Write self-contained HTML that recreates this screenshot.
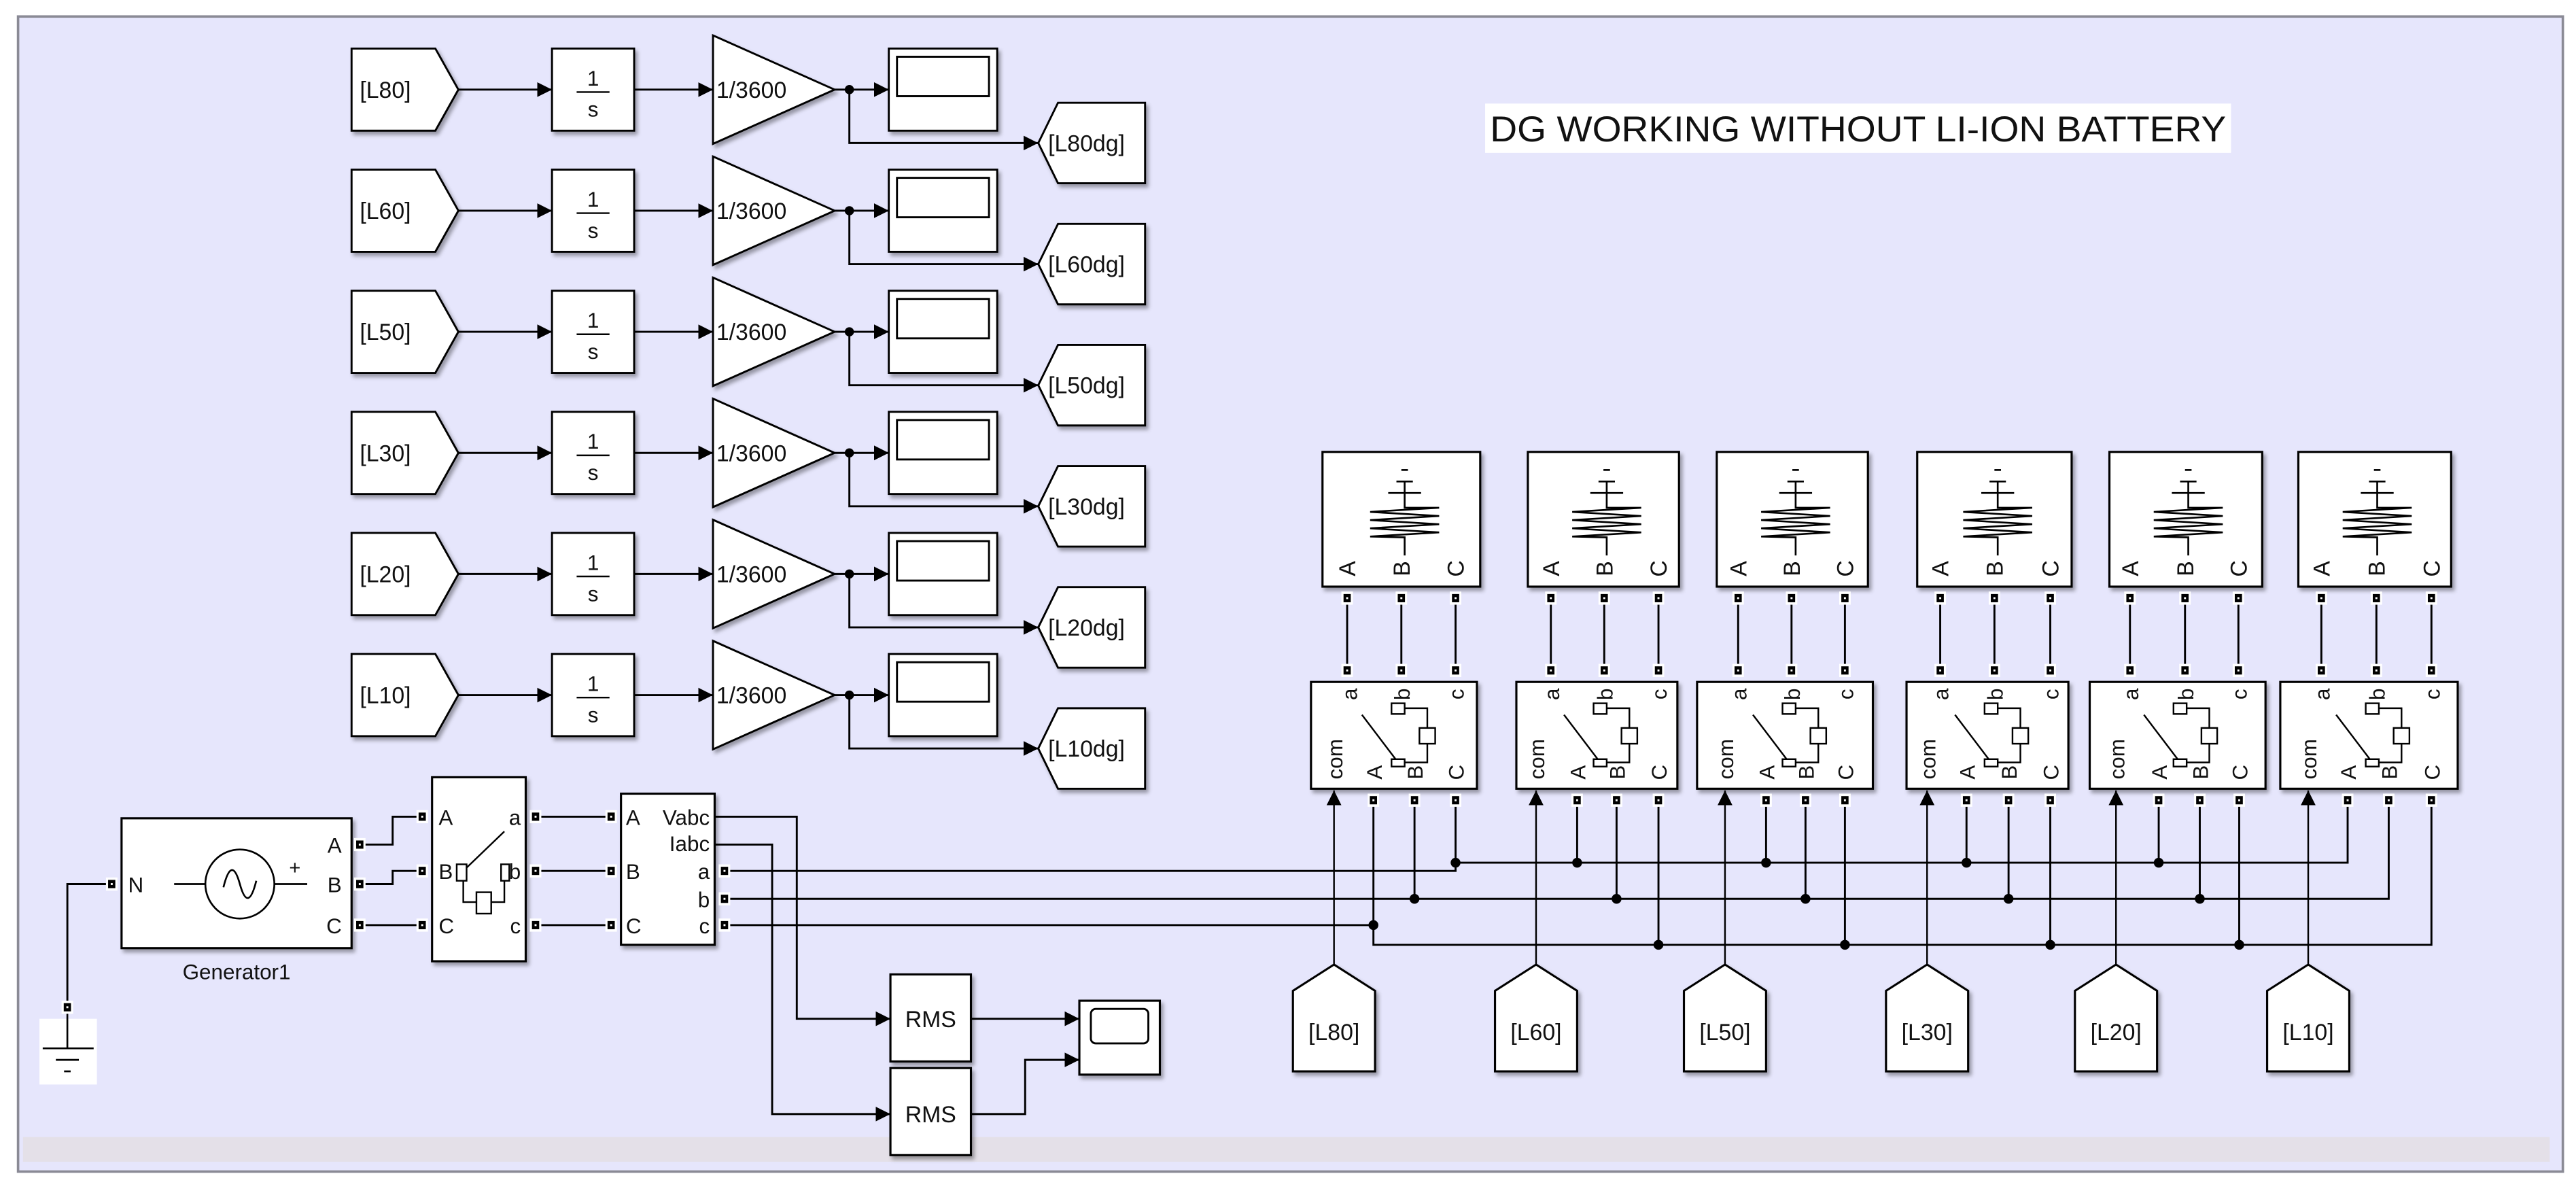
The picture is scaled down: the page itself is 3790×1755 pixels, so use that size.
<!DOCTYPE html>
<html><head><meta charset="utf-8"><style>
html,body{margin:0;padding:0;background:#fff;}
svg{display:block;}
text{font-family:"Liberation Sans",Arial,sans-serif;fill:#111;}
</style></head><body>
<svg width="3790" height="1755" viewBox="0 0 1568 726" xmlns="http://www.w3.org/2000/svg">
<defs>
<marker id="ar" markerWidth="10" markerHeight="10" refX="9" refY="5" orient="auto" markerUnits="userSpaceOnUse"><path d="M0,0.5 L9,5 L0,9.5 Z" fill="#000"/></marker>
<filter id="sh" x="-10%" y="-10%" width="130%" height="130%"><feDropShadow dx="1.5" dy="2" stdDeviation="1.2" flood-color="#000" flood-opacity="0.35"/></filter>
<g id="port"><rect x="-3.5" y="-4" width="7" height="8" fill="#fff"/><rect x="-2.2" y="-2.5" width="4.4" height="5" fill="#000"/><rect x="-0.6" y="-0.6" width="1.2" height="1.2" fill="#fff"/></g>
<g id="loadicon" fill="none" stroke="#000" stroke-width="1.1">
<polyline points="0,338 0,327 -21,326.5 21,324 -21,321.5 21,319 -21,316.5 21,314 -21,311.5 21,309 0,309 0,300"/>
<line x1="-10" y1="300" x2="10" y2="300"/><line x1="-5" y1="293" x2="5" y2="293"/><line x1="0" y1="293" x2="0" y2="300"/><line x1="-2" y1="286" x2="2" y2="286"/>
</g>
<g id="bricon" fill="#fff" stroke="#000" stroke-width="1">
<line x1="17" y1="435" x2="37.5" y2="462"/>
<polyline fill="none" points="43,431 56.8,431 56.8,443"/><polyline fill="none" points="56.8,452.6 56.8,464 43,464"/>
<rect x="35" y="428" width="8" height="6.5"/><rect x="35" y="462" width="8" height="4.5"/><rect x="52" y="443" width="9.6" height="9.6"/>
</g>
<g id="r0" stroke="#000" stroke-width="1.2">
<path d="M214,29.5 H265 L279,54.5 L265,79.5 H214 Z" fill="#fff" filter="url(#sh)"/>
<rect x="336" y="29.5" width="50" height="50" fill="#fff" filter="url(#sh)"/>
<line x1="351" y1="56" x2="371" y2="56" stroke-width="1"/>
<path d="M434,21.5 L508,54.5 L434,87.5 Z" fill="#fff" filter="url(#sh)"/>
<rect x="541" y="29.5" width="66" height="50" fill="#fff" filter="url(#sh)"/>
<rect x="546" y="34.5" width="56" height="24" fill="#fff"/>
<line x1="279" y1="54.5" x2="336" y2="54.5" marker-end="url(#ar)"/>
<line x1="386" y1="54.5" x2="434" y2="54.5" marker-end="url(#ar)"/>
<line x1="508" y1="54.5" x2="541" y2="54.5" marker-end="url(#ar)"/>
<polyline fill="none" points="517,54.5 517,87 632,87" marker-end="url(#ar)"/>
<circle cx="517" cy="54.5" r="2.8" fill="#000" stroke="none"/>
<path d="M632,87 L644,62.5 H697 V111.5 H644 Z" fill="#fff" filter="url(#sh)"/>
</g>
</defs>

<!-- canvas -->
<rect x="11" y="10" width="1549" height="703" fill="#e6e6fc" stroke="#8a8a95" stroke-width="1.5"/>
<rect x="14" y="692" width="1538" height="15" fill="#e4e0e8"/>

<!-- title -->
<rect x="904" y="63" width="454" height="30" fill="#fff"/>
<text x="907" y="86" font-size="22" textLength="448" lengthAdjust="spacingAndGlyphs">DG WORKING WITHOUT LI-ION BATTERY</text>

<!-- rows -->
<use href="#r0"/><use href="#r0" y="73.7"/><use href="#r0" y="147.4"/><use href="#r0" y="221.1"/><use href="#r0" y="294.8"/><use href="#r0" y="368.5"/>

<g font-size="14">
<text x="219" y="59.5">[L80]</text><text x="219" y="133.2">[L60]</text><text x="219" y="206.9">[L50]</text><text x="219" y="280.6">[L30]</text><text x="219" y="354.3">[L20]</text><text x="219" y="428">[L10]</text>
<text x="436" y="59.5">1/3600</text><text x="436" y="133.2">1/3600</text><text x="436" y="206.9">1/3600</text><text x="436" y="280.6">1/3600</text><text x="436" y="354.3">1/3600</text><text x="436" y="428">1/3600</text>
<text x="638" y="92">[L80dg]</text><text x="638" y="165.7">[L60dg]</text><text x="638" y="239.4">[L50dg]</text><text x="638" y="313.1">[L30dg]</text><text x="638" y="386.8">[L20dg]</text><text x="638" y="460.5">[L10dg]</text>
</g>
<g font-size="13" text-anchor="middle">
<text x="361" y="52">1</text><text x="361" y="71">s</text>
<text x="361" y="125.7">1</text><text x="361" y="144.7">s</text>
<text x="361" y="199.4">1</text><text x="361" y="218.4">s</text>
<text x="361" y="273.1">1</text><text x="361" y="292.1">s</text>
<text x="361" y="346.8">1</text><text x="361" y="365.8">s</text>
<text x="361" y="420.5">1</text><text x="361" y="439.5">s</text>
</g>

<!-- generator section -->
<g stroke="#000" stroke-width="1.2" fill="none">
<polyline points="68,538 41,538 41,613"/>
<polyline points="220,514 239,514 239,497 256,497"/>
<polyline points="220,538 239,538 239,530 256,530"/>
<line x1="220" y1="563" x2="256" y2="563"/>
<line x1="327" y1="497" x2="371" y2="497"/><line x1="327" y1="530" x2="371" y2="530"/><line x1="327" y1="563" x2="371" y2="563"/>
<polyline points="435,497 485,497 485,620 542,620" marker-end="url(#ar)"/>
<polyline points="435,514 470,514 470,678 542,678" marker-end="url(#ar)"/>
<line x1="591" y1="620" x2="657" y2="620" marker-end="url(#ar)"/>
<polyline points="591,678 624,678 624,645 657,645" marker-end="url(#ar)"/>
<polyline points="441,530 886,530 886,525 1429,525 1429,487"/>
<polyline points="441,547 1454,547 1454,487"/>
<polyline points="441,563 836,563 836,575 1480,575 1480,487"/>
</g>
<rect x="74" y="498" width="140" height="79" fill="#fff" stroke="#000" stroke-width="1.3" filter="url(#sh)"/>
<g stroke="#000" stroke-width="1.1" fill="none"><circle cx="146" cy="538" r="21"/><line x1="106" y1="538" x2="125" y2="538"/><line x1="167" y1="538" x2="187" y2="538"/><path d="M136,540 Q141,520 146,538 T156,536"/></g>
<text x="176" y="532" font-size="12">+</text>
<g font-size="13"><text x="78" y="543">N</text><text x="208" y="519" text-anchor="end">A</text><text x="208" y="543" text-anchor="end">B</text><text x="208" y="568" text-anchor="end">C</text></g>
<text x="144" y="596" font-size="13" text-anchor="middle">Generator1</text>
<rect x="24" y="620" width="35" height="40" fill="#fff"/>
<g stroke="#000" stroke-width="1.1"><line x1="41" y1="613" x2="41" y2="638"/><line x1="26" y1="638" x2="57" y2="638"/><line x1="34" y1="645" x2="48" y2="645"/><line x1="39" y1="652" x2="43" y2="652"/></g>

<rect x="263" y="473" width="57" height="112" fill="#fff" stroke="#000" stroke-width="1.3" filter="url(#sh)"/>
<g font-size="13"><text x="267" y="502">A</text><text x="267" y="535">B</text><text x="267" y="568">C</text><text x="317" y="502" text-anchor="end">a</text><text x="317" y="535" text-anchor="end">b</text><text x="317" y="568" text-anchor="end">c</text></g>
<g stroke="#000" stroke-width="1" fill="#fff"><line x1="307" y1="506" x2="282" y2="530"/><polyline fill="none" points="282,535 282,549 290,549"/><polyline fill="none" points="299,549 307,549 307,535"/><rect x="278" y="526" width="6" height="10"/><rect x="305" y="526" width="5" height="10"/><rect x="290" y="543" width="9" height="13"/></g>

<rect x="378" y="483" width="57" height="92" fill="#fff" stroke="#000" stroke-width="1.3" filter="url(#sh)"/>
<g font-size="13"><text x="381" y="502">A</text><text x="381" y="535">B</text><text x="381" y="568">C</text>
<text x="432" y="502" text-anchor="end">Vabc</text><text x="432" y="518" text-anchor="end">Iabc</text><text x="432" y="535" text-anchor="end">a</text><text x="432" y="552" text-anchor="end">b</text><text x="432" y="568" text-anchor="end">c</text></g>

<g><use href="#port" x="68" y="538"/><use href="#port" x="41" y="613"/><use href="#port" x="219" y="514"/><use href="#port" x="219" y="538"/><use href="#port" x="219" y="563"/>
<use href="#port" x="257" y="497"/><use href="#port" x="257" y="530"/><use href="#port" x="257" y="563"/><use href="#port" x="326" y="497"/><use href="#port" x="326" y="530"/><use href="#port" x="326" y="563"/>
<use href="#port" x="372" y="497"/><use href="#port" x="372" y="530"/><use href="#port" x="372" y="563"/><use href="#port" x="441" y="530"/><use href="#port" x="441" y="547"/><use href="#port" x="441" y="563"/></g>

<rect x="542" y="593" width="49" height="53" fill="#fff" stroke="#000" stroke-width="1.3" filter="url(#sh)"/>
<rect x="542" y="650" width="49" height="53" fill="#fff" stroke="#000" stroke-width="1.3" filter="url(#sh)"/>
<text x="566.5" y="625" font-size="14" text-anchor="middle">RMS</text><text x="566.5" y="683" font-size="14" text-anchor="middle">RMS</text>
<rect x="657" y="609" width="49" height="45" fill="#fff" stroke="#000" stroke-width="1.3" filter="url(#sh)"/>
<rect x="664" y="614" width="35" height="21" rx="3" fill="#fff" stroke="#000" stroke-width="1.2"/>

<!-- load / breaker blocks -->
<g stroke="#000" stroke-width="1.3" fill="#fff" filter="url(#sh)">
<rect x="805" y="275" width="96" height="82"/><rect x="930" y="275" width="92" height="82"/><rect x="1045" y="275" width="92" height="82"/><rect x="1167" y="275" width="94" height="82"/><rect x="1284" y="275" width="93" height="82"/><rect x="1399" y="275" width="93" height="82"/>
<rect x="798" y="415" width="101" height="65"/><rect x="923" y="415" width="98" height="65"/><rect x="1033" y="415" width="107" height="65"/><rect x="1160.5" y="415" width="98.5" height="65"/><rect x="1272" y="415" width="107" height="65"/><rect x="1388" y="415" width="108" height="65"/>
</g>
<use href="#loadicon" x="855"/><use href="#loadicon" x="978"/><use href="#loadicon" x="1093"/><use href="#loadicon" x="1216"/><use href="#loadicon" x="1332"/><use href="#loadicon" x="1447"/>
<use href="#bricon" x="812"/><use href="#bricon" x="935"/><use href="#bricon" x="1050"/><use href="#bricon" x="1173"/><use href="#bricon" x="1288"/><use href="#bricon" x="1405"/>

<g stroke="#000" stroke-width="1.2">
<line x1="820" y1="364" x2="820" y2="408"/><line x1="853" y1="364" x2="853" y2="408"/><line x1="886" y1="364" x2="886" y2="408"/>
<line x1="944" y1="364" x2="944" y2="408"/><line x1="976.5" y1="364" x2="976.5" y2="408"/><line x1="1009.5" y1="364" x2="1009.5" y2="408"/>
<line x1="1058" y1="364" x2="1058" y2="408"/><line x1="1090.5" y1="364" x2="1090.5" y2="408"/><line x1="1123" y1="364" x2="1123" y2="408"/>
<line x1="1181" y1="364" x2="1181" y2="408"/><line x1="1214" y1="364" x2="1214" y2="408"/><line x1="1248" y1="364" x2="1248" y2="408"/>
<line x1="1296.5" y1="364" x2="1296.5" y2="408"/><line x1="1330" y1="364" x2="1330" y2="408"/><line x1="1362.5" y1="364" x2="1362.5" y2="408"/>
<line x1="1413" y1="364" x2="1413" y2="408"/><line x1="1446.5" y1="364" x2="1446.5" y2="408"/><line x1="1480" y1="364" x2="1480" y2="408"/>
<line x1="836" y1="487" x2="836" y2="563"/><line x1="861" y1="487" x2="861" y2="547"/><line x1="886" y1="487" x2="886" y2="525"/>
<line x1="960" y1="487" x2="960" y2="525"/><line x1="984" y1="487" x2="984" y2="547"/><line x1="1009.5" y1="487" x2="1009.5" y2="575"/>
<line x1="1075" y1="487" x2="1075" y2="525"/><line x1="1099" y1="487" x2="1099" y2="547"/><line x1="1123" y1="487" x2="1123" y2="575"/>
<line x1="1197" y1="487" x2="1197" y2="525"/><line x1="1222.6" y1="487" x2="1222.6" y2="547"/><line x1="1248" y1="487" x2="1248" y2="575"/>
<line x1="1314" y1="487" x2="1314" y2="525"/><line x1="1339" y1="487" x2="1339" y2="547"/><line x1="1363" y1="487" x2="1363" y2="575"/>
</g>
<g stroke="#000" stroke-width="1">
<line x1="812" y1="587" x2="812" y2="481" marker-end="url(#ar)"/><line x1="935" y1="587" x2="935" y2="481" marker-end="url(#ar)"/><line x1="1050" y1="587" x2="1050" y2="481" marker-end="url(#ar)"/>
<line x1="1173" y1="587" x2="1173" y2="481" marker-end="url(#ar)"/><line x1="1288" y1="587" x2="1288" y2="481" marker-end="url(#ar)"/><line x1="1405" y1="587" x2="1405" y2="481" marker-end="url(#ar)"/>
</g>
<g fill="#000">
<circle cx="886" cy="525" r="3"/><circle cx="960" cy="525" r="3"/><circle cx="1075" cy="525" r="3"/><circle cx="1197" cy="525" r="3"/><circle cx="1314" cy="525" r="3"/>
<circle cx="861" cy="547" r="3"/><circle cx="984" cy="547" r="3"/><circle cx="1099" cy="547" r="3"/><circle cx="1222.6" cy="547" r="3"/><circle cx="1339" cy="547" r="3"/>
<circle cx="836" cy="563" r="3"/><circle cx="1009.5" cy="575" r="3"/><circle cx="1123" cy="575" r="3"/><circle cx="1248" cy="575" r="3"/><circle cx="1363" cy="575" r="3"/>
</g>
<g>
<use href="#port" x="820" y="364"/><use href="#port" x="853" y="364"/><use href="#port" x="886" y="364"/><use href="#port" x="820" y="408"/><use href="#port" x="853" y="408"/><use href="#port" x="886" y="408"/>
<use href="#port" x="836" y="487"/><use href="#port" x="861" y="487"/><use href="#port" x="886" y="487"/>
<use href="#port" x="944" y="364"/><use href="#port" x="976.5" y="364"/><use href="#port" x="1009.5" y="364"/><use href="#port" x="944" y="408"/><use href="#port" x="976.5" y="408"/><use href="#port" x="1009.5" y="408"/>
<use href="#port" x="960" y="487"/><use href="#port" x="984" y="487"/><use href="#port" x="1009.5" y="487"/>
<use href="#port" x="1058" y="364"/><use href="#port" x="1090.5" y="364"/><use href="#port" x="1123" y="364"/><use href="#port" x="1058" y="408"/><use href="#port" x="1090.5" y="408"/><use href="#port" x="1123" y="408"/>
<use href="#port" x="1075" y="487"/><use href="#port" x="1099" y="487"/><use href="#port" x="1123" y="487"/>
<use href="#port" x="1181" y="364"/><use href="#port" x="1214" y="364"/><use href="#port" x="1248" y="364"/><use href="#port" x="1181" y="408"/><use href="#port" x="1214" y="408"/><use href="#port" x="1248" y="408"/>
<use href="#port" x="1197" y="487"/><use href="#port" x="1222.6" y="487"/><use href="#port" x="1248" y="487"/>
<use href="#port" x="1296.5" y="364"/><use href="#port" x="1330" y="364"/><use href="#port" x="1362.5" y="364"/><use href="#port" x="1296.5" y="408"/><use href="#port" x="1330" y="408"/><use href="#port" x="1362.5" y="408"/>
<use href="#port" x="1314" y="487"/><use href="#port" x="1339" y="487"/><use href="#port" x="1363" y="487"/>
<use href="#port" x="1413" y="364"/><use href="#port" x="1446.5" y="364"/><use href="#port" x="1480" y="364"/><use href="#port" x="1413" y="408"/><use href="#port" x="1446.5" y="408"/><use href="#port" x="1480" y="408"/>
<use href="#port" x="1429" y="487"/><use href="#port" x="1454" y="487"/><use href="#port" x="1480" y="487"/>
</g>

<g font-size="14" text-anchor="middle">
<text transform="translate(825,346) rotate(-90)">A</text><text transform="translate(858,346) rotate(-90)">B</text><text transform="translate(891,346) rotate(-90)">C</text>
<text transform="translate(949,346) rotate(-90)">A</text><text transform="translate(981.5,346) rotate(-90)">B</text><text transform="translate(1014.5,346) rotate(-90)">C</text>
<text transform="translate(1063,346) rotate(-90)">A</text><text transform="translate(1095.5,346) rotate(-90)">B</text><text transform="translate(1128,346) rotate(-90)">C</text>
<text transform="translate(1186,346) rotate(-90)">A</text><text transform="translate(1219,346) rotate(-90)">B</text><text transform="translate(1253,346) rotate(-90)">C</text>
<text transform="translate(1301.5,346) rotate(-90)">A</text><text transform="translate(1335,346) rotate(-90)">B</text><text transform="translate(1367.5,346) rotate(-90)">C</text>
<text transform="translate(1418,346) rotate(-90)">A</text><text transform="translate(1451.5,346) rotate(-90)">B</text><text transform="translate(1485,346) rotate(-90)">C</text>
</g>
<g font-size="13" text-anchor="middle">
<text transform="translate(817,462) rotate(-90)">com</text><text transform="translate(841,470) rotate(-90)">A</text><text transform="translate(866,470) rotate(-90)">B</text><text transform="translate(891,470) rotate(-90)">C</text>
<text transform="translate(826,422.5) rotate(-90)">a</text><text transform="translate(858,422.5) rotate(-90)">b</text><text transform="translate(891,422.5) rotate(-90)">c</text>
<text transform="translate(940,462) rotate(-90)">com</text><text transform="translate(965,470) rotate(-90)">A</text><text transform="translate(989,470) rotate(-90)">B</text><text transform="translate(1014.5,470) rotate(-90)">C</text>
<text transform="translate(949,422.5) rotate(-90)">a</text><text transform="translate(981.5,422.5) rotate(-90)">b</text><text transform="translate(1014.5,422.5) rotate(-90)">c</text>
<text transform="translate(1055,462) rotate(-90)">com</text><text transform="translate(1080,470) rotate(-90)">A</text><text transform="translate(1104,470) rotate(-90)">B</text><text transform="translate(1128,470) rotate(-90)">C</text>
<text transform="translate(1063,422.5) rotate(-90)">a</text><text transform="translate(1095.5,422.5) rotate(-90)">b</text><text transform="translate(1128,422.5) rotate(-90)">c</text>
<text transform="translate(1178,462) rotate(-90)">com</text><text transform="translate(1202,470) rotate(-90)">A</text><text transform="translate(1227.6,470) rotate(-90)">B</text><text transform="translate(1253,470) rotate(-90)">C</text>
<text transform="translate(1186,422.5) rotate(-90)">a</text><text transform="translate(1219,422.5) rotate(-90)">b</text><text transform="translate(1253,422.5) rotate(-90)">c</text>
<text transform="translate(1293,462) rotate(-90)">com</text><text transform="translate(1319,470) rotate(-90)">A</text><text transform="translate(1344,470) rotate(-90)">B</text><text transform="translate(1368,470) rotate(-90)">C</text>
<text transform="translate(1301.5,422.5) rotate(-90)">a</text><text transform="translate(1335,422.5) rotate(-90)">b</text><text transform="translate(1367.5,422.5) rotate(-90)">c</text>
<text transform="translate(1410,462) rotate(-90)">com</text><text transform="translate(1434,470) rotate(-90)">A</text><text transform="translate(1459,470) rotate(-90)">B</text><text transform="translate(1485,470) rotate(-90)">C</text>
<text transform="translate(1418,422.5) rotate(-90)">a</text><text transform="translate(1451.5,422.5) rotate(-90)">b</text><text transform="translate(1485,422.5) rotate(-90)">c</text>
</g>

<g stroke="#000" stroke-width="1.3" fill="#fff" filter="url(#sh)">
<path d="M812,587 L837,603 V652 H787 V603 Z"/><path d="M935,587 L960,603 V652 H910 V603 Z"/><path d="M1050,587 L1075,603 V652 H1025 V603 Z"/>
<path d="M1173,587 L1198,603 V652 H1148 V603 Z"/><path d="M1288,587 L1313,603 V652 H1263 V603 Z"/><path d="M1405,587 L1430,603 V652 H1380 V603 Z"/>
</g>
<g font-size="14" text-anchor="middle">
<text x="812" y="633">[L80]</text><text x="935" y="633">[L60]</text><text x="1050" y="633">[L50]</text><text x="1173" y="633">[L30]</text><text x="1288" y="633">[L20]</text><text x="1405" y="633">[L10]</text>
</g>
</svg>
</body></html>
